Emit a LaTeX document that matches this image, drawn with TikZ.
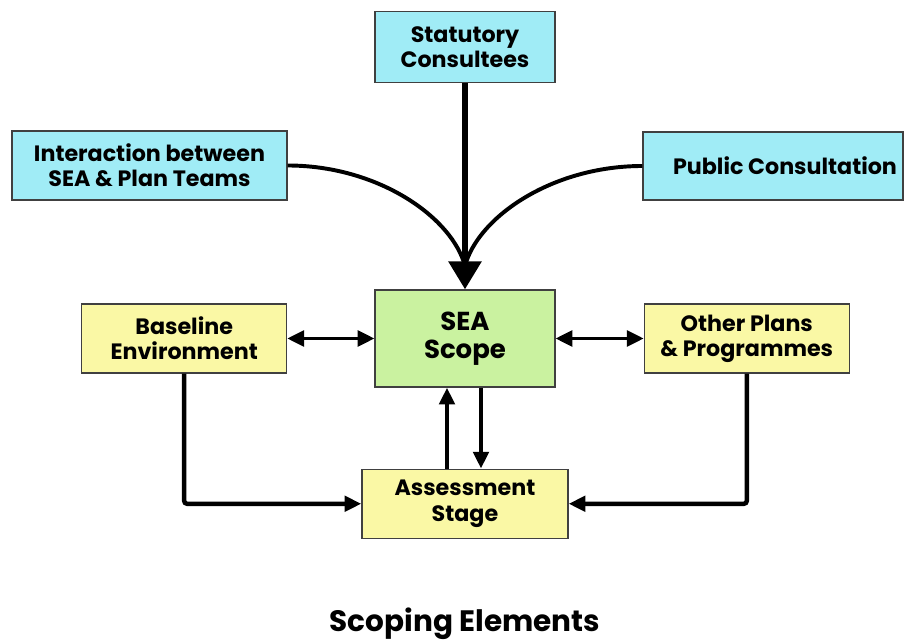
\documentclass[tikz,border=0pt]{standalone}
\usepackage{fontspec}
\setmainfont{Poppins}
\usetikzlibrary{arrows.meta,positioning}
\definecolor{consultcyan}{RGB}{160,236,246}
\definecolor{scopegreen}{RGB}{202,242,160}
\definecolor{factoryellow}{RGB}{250,248,165}

\begin{document}
\begin{tikzpicture}[
		node distance=2cm,
		box/.style={draw=black!75, line width=0.9pt, align=center, inner sep=0pt, font=\fontsize{15.8}{17.8}\selectfont\bfseries},
		consult/.style={box, fill=consultcyan, minimum height=1.725cm},
		factor/.style={box, fill=factoryellow, minimum width=5.125cm, minimum height=1.725cm},
		core/.style={box, fill=scopegreen, minimum width=4.5cm, minimum height=2.425cm, font=\fontsize{18.5}{20}\selectfont\bfseries},
		link/.style={line width=3.2pt, rounded corners=2pt, -{Triangle[length=0.42cm,width=0.38cm]}},
		feed/.style={line width=2.8pt},
		both/.style={line width=2.2pt, {Triangle[length=0.42cm,width=0.4cm]}-{Triangle[length=0.42cm,width=0.4cm]}},
	]
		\useasboundingbox (-11.625,-7.5625) rectangle (11.025,8.4625);
		\node[core] (scope) at (0,0) {SEA\\Scope};
		\node[consult, minimum width=4.5cm, minimum height=1.775cm, above=5.15cm of scope] (stat) {Statutory\\Consultees};
		\node[consult, minimum width=6.875cm] (team) at (-7.8875,4.325) {Interaction between\\SEA \& Plan Teams};
		\node[consult, minimum width=6.5cm, minimum height=1.7cm] (public) at (7.7,4.3125) {\hspace{0.6cm}Public Consultation};
		\node[factor, left=2.175cm of scope] (base) {Baseline\\Environment};
		\node[factor, right=2.2cm of scope] (other) {Other Plans\\\& Programmes};
		\node[factor, minimum width=5.15cm, below=2.025cm of scope] (assess) {Assessment\\Stage};
		\node[font=\fontsize{21}{24}\selectfont\bfseries] (title) at (0,-7.1375) {Scoping Elements};
		\coordinate (merge) at ([yshift=0.7cm]scope.north);
		
		\draw[feed] (team.east) .. controls +(2.2,0) and +(-0.4,1.175) .. ([xshift=-1pt]merge);
		\draw[feed] (public.west) .. controls +(-2.2,0) and +(0.4,1.175) .. ([xshift=1pt]merge);
		\draw[line width=4.2pt, -{Triangle[length=0.7cm,width=0.8cm]}] (stat) -- (scope);
		\draw[both] (base) -- (scope);
		\draw[both] (other) -- (scope);
		\draw[link] ([xshift=-0.45cm]assess.north) -- ([xshift=-0.45cm]scope.south);
		\draw[link] ([xshift=0.4cm]scope.south) -- ([xshift=0.4cm]assess.north);
		\draw[link] (base) |- (assess);
		\draw[link] (other) |- (assess);
	\end{tikzpicture}
\end{document}
